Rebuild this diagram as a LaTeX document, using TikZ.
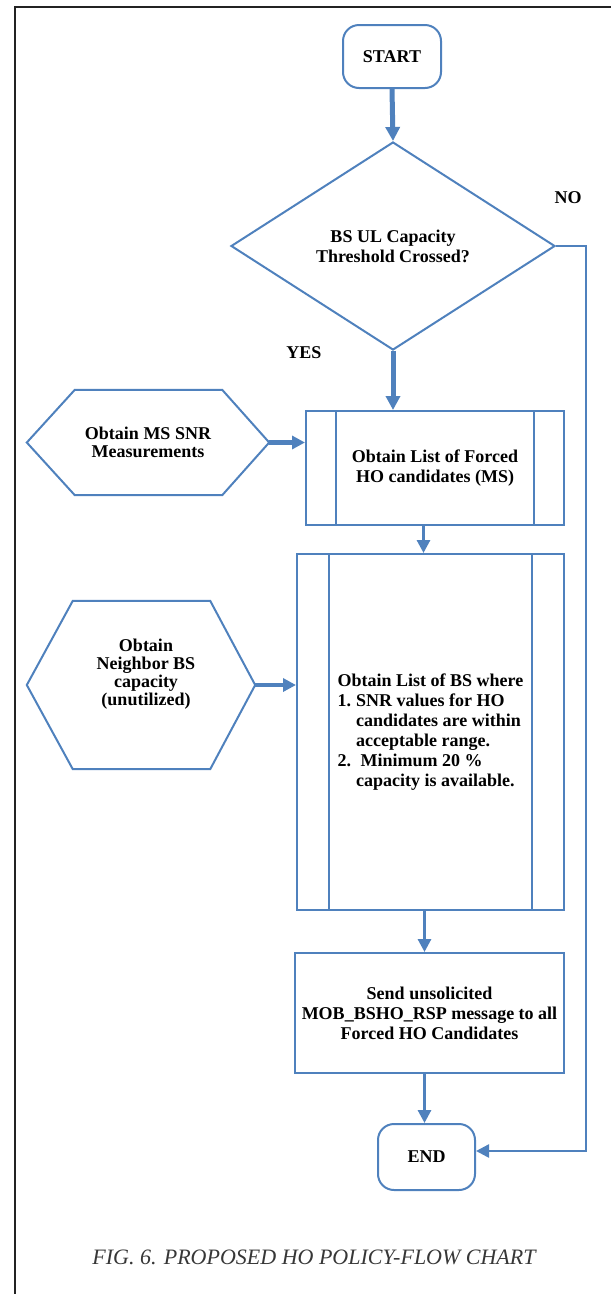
\documentclass[tikz,border=0pt]{standalone}
\usepackage{fontspec}
\setmainfont{Liberation Serif}
\usetikzlibrary{arrows.meta,shapes.geometric}

\definecolor{flowblue}{RGB}{79,129,189}
\definecolor{framegray}{RGB}{35,35,35}
\definecolor{captiongray}{RGB}{55,55,55}

\begin{document}
\begin{tikzpicture}[x=1pt,y=-1pt,
  shapeline/.style={draw=flowblue, line width=2pt},
  boxtext/.style={font=\fontsize{18}{20}\selectfont\bfseries, align=center, text=black},
  hextext/.style={font=\fontsize{18}{18}\selectfont\bfseries, align=center, text=black, inner sep=0pt},
  terminal/.style={shapeline, boxtext, rounded corners=16pt, inner sep=0pt},
  procbox/.style={shapeline, boxtext, inner sep=0pt},
  hexbox/.style={hextext},
  decision/.style={diamond, shapeline, boxtext, inner sep=0pt},
  flow/.style={draw=flowblue, line width=3pt, -{Triangle[length=13pt,width=13pt]}},
  flowthick/.style={flow, line width=5pt, -{Triangle[length=14pt,width=14pt]}},
  flowside/.style={flow, line width=4.5pt},
  flowno/.style={flow, line width=2.5pt},
  branch/.style={font=\fontsize{18}{20}\selectfont\bfseries, inner sep=0pt},
]
\useasboundingbox (0,0) rectangle (611,1294);

% page frame
\draw[framegray, line width=2pt] (15,1294) -- (15,7) -- (611,7);

% terminals and decision
\node[terminal, minimum width=98pt, minimum height=63pt] (start) at (392,56.5) {START};
\node[decision, minimum width=324pt, minimum height=208pt] (dec) at (393,246)
  {BS UL Capacity\\Threshold Crossed?};

% process boxes
\node[procbox, minimum width=258pt, minimum height=114pt] (b1) at (435,468)
  {Obtain List of Forced\\HO candidates (MS)};
\draw[shapeline] ([xshift=31pt]b1.north west) -- ([xshift=31pt]b1.south west);
\draw[shapeline] ([xshift=-31pt]b1.north east) -- ([xshift=-31pt]b1.south east);

\node[procbox, minimum width=267pt, minimum height=356pt] (b2) at (430.5,732)
  {\begin{tabular}{@{}l@{\hspace{5pt}}l@{}}
   \multicolumn{2}{@{}l@{}}{Obtain List of BS where}\\
   1. & SNR values for HO\\
      & candidates are within\\
      & acceptable range.\\
   2. & \ Minimum 20 \%\\
      & capacity is available.
   \end{tabular}};
\draw[shapeline] ([xshift=33pt]b2.north west) -- ([xshift=33pt]b2.south west);
\draw[shapeline] ([xshift=-33pt]b2.north east) -- ([xshift=-33pt]b2.south east);

\node[procbox, minimum width=269pt, minimum height=120pt] (b3) at (429.5,1013)
  {Send unsolicited\\MOB\_BSHO\_RSP message to all\\Forced HO Candidates};

\node[terminal, minimum width=97pt, minimum height=66pt] (end) at (426.5,1157) {END};

% input hexagons
\node[hexbox, minimum width=242pt, minimum height=105pt] (h1) at (148,442.5)
  {Obtain MS SNR\\Measurements};
\draw[shapeline] (h1.west) -- ([xshift=48pt]h1.north west) -- ([xshift=-47pt]h1.north east)
  -- (h1.east) -- ([xshift=-47pt]h1.south east) -- ([xshift=48pt]h1.south west) -- cycle;

\node[hexbox, minimum width=228pt, minimum height=168pt] (h2) at (141,685) {};
\draw[shapeline] (h2.west) -- ([xshift=46pt]h2.north west) -- ([xshift=-45pt]h2.north east)
  -- (h2.east) -- ([xshift=-45pt]h2.south east) -- ([xshift=46pt]h2.south west) -- cycle;
\node[hextext] (h2text) at ([xshift=5pt,yshift=11pt]h2.center)
  {Obtain\\Neighbor BS\\capacity\\(unutilized)};

% branch labels
\node[branch] (no) at (568,198) {NO};
\node[branch] (yes) at (304,353) {YES};

% connectors
\draw[flowthick] (start.south) -- (dec.north);
\draw[flowthick] (dec.south) -- (dec.south |- b1.north);
\draw[flowside] (h1.east) -- (h1.east -| b1.west);
\draw[flow] ([xshift=-7pt]b2.north |- b1.south) -- ([xshift=-7pt]b2.north);
\draw[flowside] (h2.east) -- (h2.east -| b2.west);
\draw[flow] ([xshift=-6pt]b2.south) -- ([xshift=-6pt]b2.south |- b3.north);
\draw[flow] ([xshift=-5pt]b3.south) -- ([xshift=-5pt]b3.south |- end.north);

\coordinate (nocorner) at (586,1151);
\draw[flowno] (dec.east) -| (nocorner) -- (nocorner -| end.east);

% caption
\node[font=\fontsize{22}{24}\selectfont\itshape, text=captiongray] (cap) at (314,1257)
  {FIG. 6. PROPOSED HO POLICY-FLOW CHART};
\end{tikzpicture}
\end{document}
